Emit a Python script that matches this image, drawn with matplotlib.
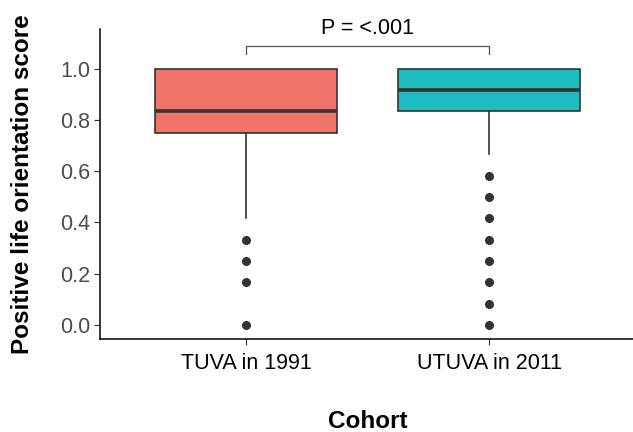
import matplotlib
matplotlib.use("Agg")
import matplotlib.pyplot as plt

# -----------------------------
# Data
# -----------------------------
cohorts = ["TUVA in 1991", "UTUVA in 2011"]
q1 = [0.75, 0.833]
medians = [0.833, 0.917]
q3 = [1.0, 1.0]
whisker_low = [0.417, 0.667]
whisker_high = [1.0, 1.0]
outliers = [
    [0.333, 0.25, 0.167, 0.0],
    [0.583, 0.5, 0.417, 0.333, 0.25, 0.167, 0.083, 0.0],
]
colors = ["#F0746A", "#1EBDC0"]
p_label = "P = <.001"

plt.rcParams["font.family"] = ["Liberation Sans", "DejaVu Sans"]

fig = plt.figure(figsize=(6.33, 4.32), dpi=100)
ax = fig.add_axes([100 / 633, 93 / 432, 535 / 633, 310 / 432])

stats = []
for i, name in enumerate(cohorts):
    stats.append({
        "label": name,
        "q1": q1[i], "med": medians[i], "q3": q3[i],
        "whislo": whisker_low[i], "whishi": whisker_high[i],
        "fliers": outliers[i],
    })

positions = list(range(1, len(cohorts) + 1))
bp = ax.bxp(
    stats, positions=positions, widths=0.75, patch_artist=True,
    showcaps=False,
    boxprops=dict(edgecolor="#333333", linewidth=1.2),
    medianprops=dict(color="#333333", linewidth=2.6),
    whiskerprops=dict(color="#333333", linewidth=1.2),
    flierprops=dict(marker="o", markerfacecolor="#333333",
                    markeredgecolor="#333333", markersize=5.5),
)
for patch, c in zip(bp["boxes"], colors):
    patch.set_facecolor(c)

# significance bracket
y_br, y_tip = 1.087, 1.058
ax.plot([1, 1, 2, 2], [y_tip, y_br, y_br, y_tip], color="#555555", lw=0.9,
        clip_on=False)
ax.text(1.5, y_br + 0.03, p_label, ha="center", va="bottom", fontsize=15.5,
        color="black")

ax.set_xlim(0.4, 2.6)
ax.set_ylim(-0.055, 1.155)
ax.set_yticks([0.0, 0.2, 0.4, 0.6, 0.8, 1.0])
ax.set_yticklabels(["0.0", "0.2", "0.4", "0.6", "0.8", "1.0"])
ax.set_xticks(positions)
ax.set_xticklabels(cohorts)

for s in ["top", "right"]:
    ax.spines[s].set_visible(False)
for s in ["left", "bottom"]:
    ax.spines[s].set_linewidth(1.1)
    ax.spines[s].set_color("black")

ax.tick_params(axis="y", labelsize=15.5, labelcolor="#4D4D4D", length=4,
               color="#333333", pad=3)
ax.tick_params(axis="x", labelsize=15.5, labelcolor="black", length=4,
               color="#333333", pad=6)

ax.set_xlabel("Cohort", fontsize=17.5, fontweight="bold", labelpad=26)
ax.set_ylabel("Positive life orientation score", fontsize=17.5,
              fontweight="bold", labelpad=19)

fig.savefig("out.png", dpi=100)
